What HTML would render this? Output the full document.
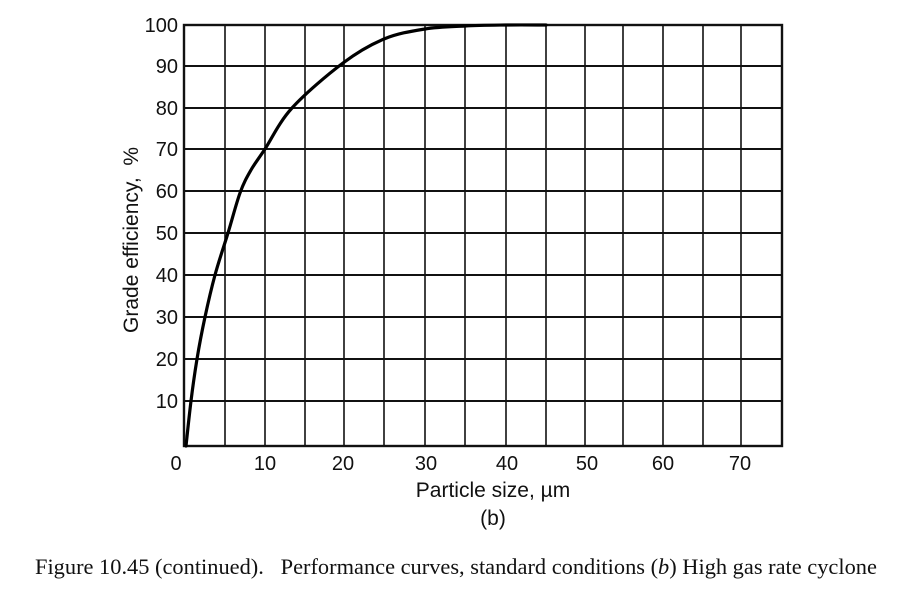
<!DOCTYPE html>
<html><head><style>
body{margin:0;background:#fff;}
svg{display:block;}
</style></head><body>
<svg width="904" height="594" xmlns="http://www.w3.org/2000/svg">
<g stroke="#111" stroke-width="1.6">
<line x1="225" y1="25" x2="225" y2="446"/>
<line x1="265" y1="25" x2="265" y2="446"/>
<line x1="305" y1="25" x2="305" y2="446"/>
<line x1="344" y1="25" x2="344" y2="446"/>
<line x1="384" y1="25" x2="384" y2="446"/>
<line x1="425" y1="25" x2="425" y2="446"/>
<line x1="465" y1="25" x2="465" y2="446"/>
<line x1="506" y1="25" x2="506" y2="446"/>
<line x1="546" y1="25" x2="546" y2="446"/>
<line x1="585" y1="25" x2="585" y2="446"/>
<line x1="623" y1="25" x2="623" y2="446"/>
<line x1="663" y1="25" x2="663" y2="446"/>
<line x1="703" y1="25" x2="703" y2="446"/>
<line x1="741" y1="25" x2="741" y2="446"/>
</g>
<g stroke="#111" stroke-width="2">
<line x1="184" y1="66" x2="782" y2="66"/>
<line x1="184" y1="108" x2="782" y2="108"/>
<line x1="184" y1="149" x2="782" y2="149"/>
<line x1="184" y1="191" x2="782" y2="191"/>
<line x1="184" y1="233" x2="782" y2="233"/>
<line x1="184" y1="275" x2="782" y2="275"/>
<line x1="184" y1="317" x2="782" y2="317"/>
<line x1="184" y1="359" x2="782" y2="359"/>
<line x1="184" y1="401" x2="782" y2="401"/>
</g>
<rect x="184" y="25" width="598" height="421" fill="none" stroke="#111" stroke-width="2.4"/>
<path id="curve" d="M186,446 L191,401 L197,359 L205,317 L215,275 L228,233 L240,191 L265,149 L292,108 L343,64 L384,39 L425,29 L465,26 L506,25 L546,25" fill="none" stroke="#000" stroke-width="3.2" stroke-linejoin="round" stroke-linecap="round"/>
<g font-family="Liberation Sans, sans-serif" font-size="20" fill="#111" text-anchor="end">
<text x="178" y="32">100</text>
<text x="178" y="73">90</text>
<text x="178" y="115">80</text>
<text x="178" y="156">70</text>
<text x="178" y="198">60</text>
<text x="178" y="240">50</text>
<text x="178" y="282">40</text>
<text x="178" y="324">30</text>
<text x="178" y="366">20</text>
<text x="178" y="408">10</text>
</g>
<g font-family="Liberation Sans, sans-serif" font-size="20" fill="#111" text-anchor="middle">
<text x="176" y="470">0</text>
<text x="265" y="470">10</text>
<text x="343" y="470">20</text>
<text x="426" y="470">30</text>
<text x="507" y="470">40</text>
<text x="587" y="470">50</text>
<text x="663" y="470">60</text>
<text x="740" y="470">70</text>
</g>
<g font-family="Liberation Sans, sans-serif" font-size="21" fill="#111" text-anchor="middle">
<text x="493" y="497">Particle size, µm</text>
<text x="493" y="525">(b)</text>
<text transform="translate(138,240) rotate(-90)" xml:space="preserve">Grade efficiency,  %</text>
</g>
<text x="35" y="574" font-family="Liberation Serif, serif" font-size="22.4" fill="#111" xml:space="preserve">Figure 10.45 (continued).   Performance curves, standard conditions (<tspan font-style="italic">b</tspan>) High gas rate cyclone</text>
</svg>
<script>
(function(){
var p=[[186,446],[191,401],[197,359],[205,317],[215,275],[228,233],[240,193],[251,170],[265,149],[292,108],[343,63],[384,39],[425,29],[465,26],[506,25],[546,25]];
var d="M"+p[0][0]+","+p[0][1];
for(var i=0;i<p.length-1;i++){
var p0=p[Math.max(i-1,0)],p1=p[i],p2=p[i+1],p3=p[Math.min(i+2,p.length-1)];
var c1x=p1[0]+(p2[0]-p0[0])/6,c1y=p1[1]+(p2[1]-p0[1])/6;
var c2x=p2[0]-(p3[0]-p1[0])/6,c2y=p2[1]-(p3[1]-p1[1])/6;
d+=" C"+c1x.toFixed(1)+","+c1y.toFixed(1)+" "+c2x.toFixed(1)+","+c2y.toFixed(1)+" "+p2[0]+","+p2[1];
}
document.getElementById("curve").setAttribute("d",d);
})();
</script>
</body></html>
